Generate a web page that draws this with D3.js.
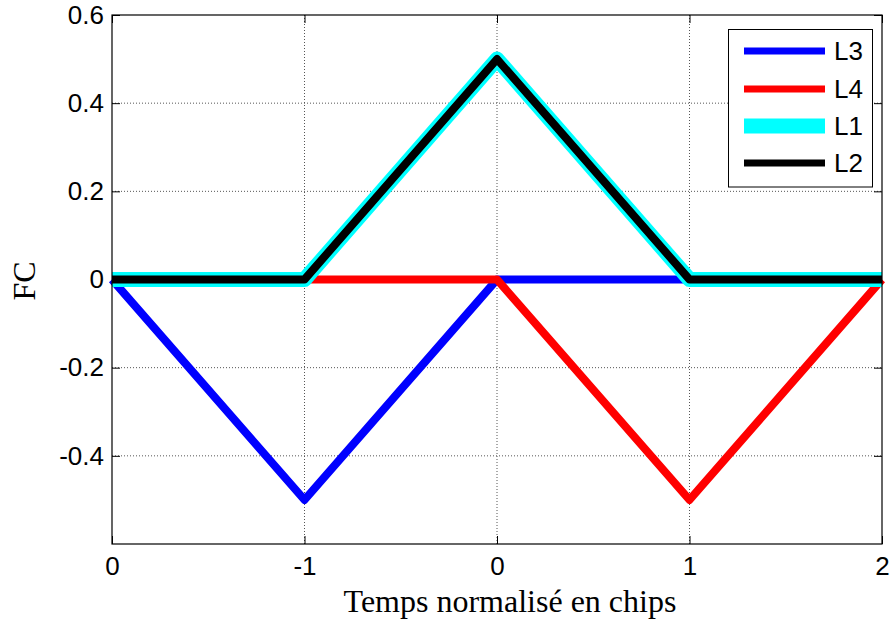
<!DOCTYPE html>
<html><head><meta charset="utf-8">
<script src="https://cdn.jsdelivr.net/npm/d3@7"></script>
<style>body{margin:0;background:#fff}svg{display:block}</style>
</head><body>
<svg id="c" width="890" height="623"></svg>
<script>
// Data
const xValues = [-2, -1, 0, 1, 2];
const L1 = [0, 0, 0.5, 0, 0];
const L2 = [0, 0, 0.5, 0, 0];
const L3 = [0, -0.5, 0, 0, 0];
const L4 = [0, 0, 0, -0.5, 0];
const xTickValues = [-2, -1, 0, 1, 2];
const xTickLabels = ["0", "-1", "0", "1", "2"];
const yTickValues = [-0.4, -0.2, 0, 0.2, 0.4, 0.6];
const yTickLabels = ["-0.4", "-0.2", "0", "0.2", "0.4", "0.6"];
const seriesNames = ["L3", "L4", "L1", "L2"];
const seriesColors = ["#0000ff", "#ff0000", "#00ffff", "#000000"];

const svg = d3.select("#c");
const L = 112, R = 882, T = 15, B = 544;
const x = d3.scaleLinear().domain([-2, 2]).range([L, R]);
const y = d3.scaleLinear().domain([-0.6, 0.6]).range([B, T]);

// grid
const grid = svg.append("g").attr("stroke", "#555").attr("stroke-width", 1).attr("stroke-dasharray", "1,2");
[-1, 0, 1].forEach(v => grid.append("line").attr("x1", x(v)).attr("x2", x(v)).attr("y1", T).attr("y2", B));
[-0.4, -0.2, 0, 0.2, 0.4].forEach(v => grid.append("line").attr("y1", y(v)).attr("y2", y(v)).attr("x1", L).attr("x2", R));

// axes (ticks inward)
const tk = 8;
const axB = svg.append("g").attr("transform", `translate(0,${B})`)
  .call(d3.axisBottom(x).tickValues(xTickValues).tickFormat((d, i) => xTickLabels[i]).tickSizeInner(-tk).tickSizeOuter(0).tickPadding(13));
const axT = svg.append("g").attr("transform", `translate(0,${T})`)
  .call(d3.axisTop(x).tickValues(xTickValues).tickFormat("").tickSizeInner(-tk).tickSizeOuter(0));
const axL = svg.append("g").attr("transform", `translate(${L},0)`)
  .call(d3.axisLeft(y).tickValues(yTickValues).tickFormat((d, i) => yTickLabels[i]).tickSizeInner(-tk).tickSizeOuter(0).tickPadding(8));
const axR = svg.append("g").attr("transform", `translate(${R},0)`)
  .call(d3.axisRight(y).tickValues(yTickValues).tickFormat("").tickSizeInner(-tk).tickSizeOuter(0));
[axB, axT, axL, axR].forEach(a => {
  a.select(".domain").remove();
  a.selectAll("line").attr("stroke", "#000");
  a.selectAll("text").attr("font-family", "Liberation Sans, Arial, sans-serif").attr("font-size", 26).attr("fill", "#000");
});

// series
const data = [L3, L4, L1, L2];
const widths = [8, 8, 15, 8];
const line = d3.line().x((d, i) => x(xValues[i])).y(d => y(d));
data.forEach((s, k) => {
  svg.append("path").attr("d", line(s)).attr("fill", "none")
    .attr("stroke", seriesColors[k]).attr("stroke-width", widths[k])
    .attr("stroke-linejoin", "round").attr("stroke-linecap", "butt");
});

// box
svg.append("rect").attr("x", L).attr("y", T).attr("width", R - L).attr("height", B - T)
  .attr("fill", "none").attr("stroke", "#000").attr("stroke-width", 1.2);

// legend
const lg = svg.append("g");
lg.append("rect").attr("x", 728.5).attr("y", 29.5).attr("width", 144).attr("height", 157.5)
  .attr("fill", "#fff").attr("stroke", "#000").attr("stroke-width", 1);
const rowsY = [51, 89, 126, 163];
const lw = [7, 7, 15, 7];
seriesNames.forEach((n, i) => {
  lg.append("line").attr("x1", 744).attr("x2", 825).attr("y1", rowsY[i]).attr("y2", rowsY[i])
    .attr("stroke", seriesColors[i]).attr("stroke-width", lw[i]);
  lg.append("text").attr("x", 834).attr("y", rowsY[i]).attr("dy", "0.36em")
    .attr("font-family", "Liberation Sans, Arial, sans-serif").attr("font-size", 26).text(n);
});

// axis labels
svg.append("text").attr("x", 510).attr("y", 612).attr("text-anchor", "middle")
  .attr("font-family", "Liberation Serif, Times New Roman, serif").attr("font-size", 32)
  .text("Temps normalisé en chips");
svg.append("text").attr("transform", "translate(35,281) rotate(-90)").attr("text-anchor", "middle")
  .attr("font-family", "Liberation Serif, Times New Roman, serif").attr("font-size", 32)
  .text("FC");
</script>
</body></html>
